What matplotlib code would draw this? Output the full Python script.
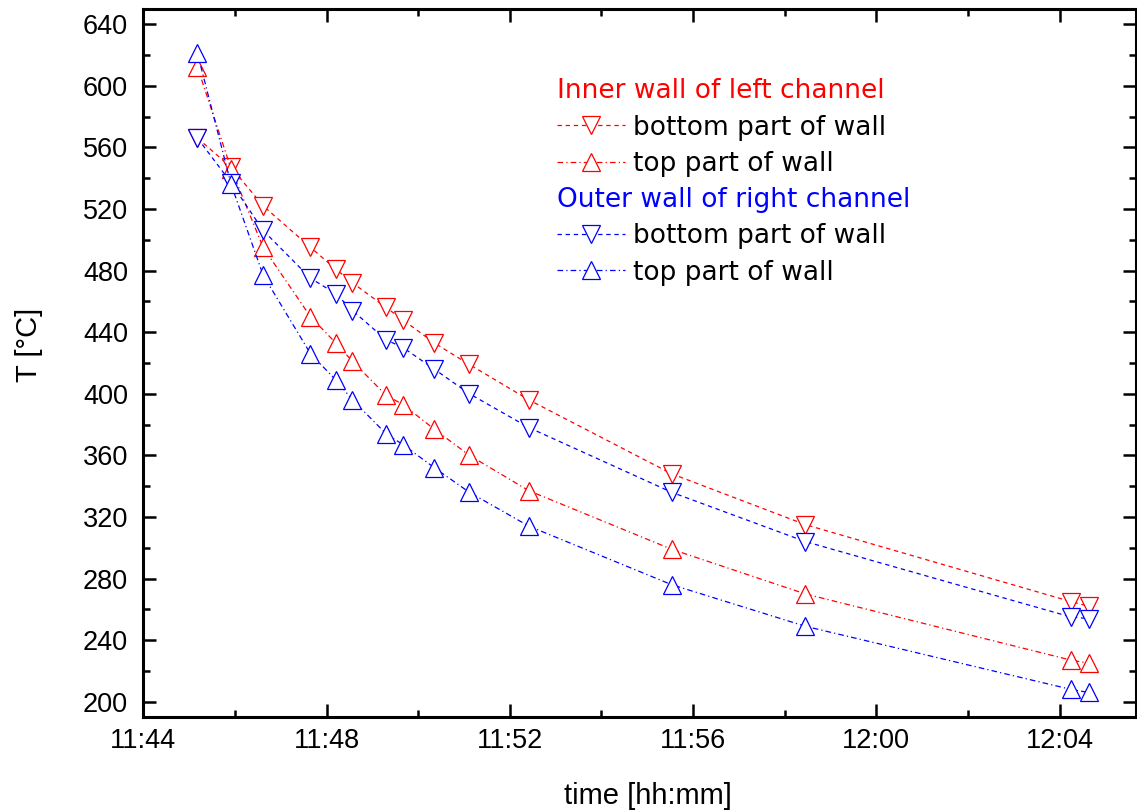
from datetime import datetime

import matplotlib
matplotlib.use("Agg")
import matplotlib.pyplot as plt
import matplotlib.dates as mdates
from matplotlib.lines import Line2D
from matplotlib.ticker import MultipleLocator
from matplotlib.transforms import offset_copy

# measurement times (same for all four series)
times = ["11:45:11", "11:45:55", "11:46:37", "11:47:39", "11:48:12", "11:48:34",
         "11:49:18", "11:49:40", "11:50:21", "11:51:07", "11:52:25", "11:55:32",
         "11:58:27", "12:04:15", "12:04:38"]

inner_bottom = [566, 547, 522, 495, 481, 472, 456, 448, 433, 419, 396, 348, 315, 265, 262]
inner_top = [612, 546, 495, 450, 433, 421, 399, 393, 377, 360, 337, 299, 270, 227, 225]
outer_bottom = [566, 537, 506, 475, 465, 454, 435, 430, 416, 400, 378, 336, 304, 255, 254]
outer_top = [621, 536, 477, 426, 409, 396, 374, 367, 352, 336, 314, 276, 249, 208, 206]

x_start = "11:44:00"
x_end = "12:05:40"
y_limits = (190.4, 649.6)

red = "#ff0000"
blue = "#0000ff"
dashed = (0, (3.5, 3))
dashdot = (0, (4.5, 2.5, 1, 2.5))


def to_dt(s):
    return datetime.strptime("2000-01-01 " + s, "%Y-%m-%d %H:%M:%S")


t = [to_dt(s) for s in times]

plt.rcParams["font.family"] = ["Liberation Sans", "DejaVu Sans"]

fig = plt.figure(figsize=(11.37, 8.11), dpi=100)
ax = fig.add_axes([0.1260, 0.1165, 0.8731, 0.8720])

marker_kw = dict(markersize=12.5, markerfacecolor="white", markeredgewidth=0.9, linewidth=0.9)
ax.plot(t, inner_bottom, color=red, linestyle=dashed, marker="v", **marker_kw)
ax.plot(t, inner_top, color=red, linestyle=dashdot, marker="^", **marker_kw)
ax.plot(t, outer_bottom, color=blue, linestyle=dashed, marker="v", **marker_kw)
ax.plot(t, outer_top, color=blue, linestyle=dashdot, marker="^", **marker_kw)

ax.set_xlim(to_dt(x_start), to_dt(x_end))
ax.set_ylim(*y_limits)

ax.xaxis.set_major_locator(mdates.MinuteLocator(byminute=range(0, 60, 4)))
ax.xaxis.set_minor_locator(mdates.MinuteLocator(byminute=range(0, 60, 2)))
ax.xaxis.set_major_formatter(mdates.DateFormatter("%H:%M"))
ax.yaxis.set_major_locator(MultipleLocator(40))
ax.yaxis.set_minor_locator(MultipleLocator(20))

ax.tick_params(which="both", direction="in", top=True, right=True, width=1.8, labelsize=19.5)
ax.tick_params(which="major", length=9.4)
ax.tick_params(which="minor", length=5)
ax.tick_params(axis="x", pad=8)
ax.tick_params(axis="y", pad=11)
for sp in ax.spines.values():
    sp.set_linewidth(2.2)

ax.set_xlabel("time [hh:mm]", fontsize=21)
ax.xaxis.set_label_coords(0.508, -0.093)
ax.set_ylabel("T [°C]", fontsize=21)
ax.yaxis.set_label_coords(-0.101, 0.525)

handles = [
    Line2D([], [], linestyle="none", color=red),
    Line2D([], [], color=red, linestyle=dashed, marker="v", **marker_kw),
    Line2D([], [], color=red, linestyle=dashdot, marker="^", **marker_kw),
    Line2D([], [], linestyle="none", color=blue),
    Line2D([], [], color=blue, linestyle=dashed, marker="v", **marker_kw),
    Line2D([], [], color=blue, linestyle=dashdot, marker="^", **marker_kw),
]
labels = ["Inner wall of left channel", "bottom part of wall", "top part of wall",
          "Outer wall of right channel", "bottom part of wall", "top part of wall"]

leg_fs = 19
hlen, hpad = 2.58, 0.3
leg = ax.legend(handles, labels, loc="upper left", bbox_to_anchor=(0.4167, 0.9025),
                frameon=False, borderpad=0, borderaxespad=0,
                handlelength=hlen, handletextpad=hpad, labelspacing=0.39,
                prop={"family": "DejaVu Sans", "size": leg_fs})
for i, txt in enumerate(leg.get_texts()):
    if i in (0, 3):
        txt.set_color(red if i == 0 else blue)
        txt.set_transform(offset_copy(txt.get_transform(), fig=fig,
                                      x=-(hlen + hpad) * leg_fs, y=0, units="points"))

fig.savefig("out.png", dpi=100)
